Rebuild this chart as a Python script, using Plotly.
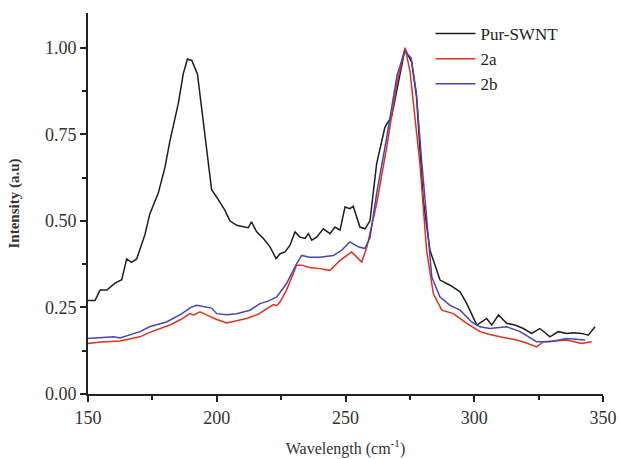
import plotly.graph_objects as go

# Pur-SWNT
x_pur = [150, 152.7, 154.7, 157.3, 160.5, 163.1, 165, 166.9, 168.9, 172.1, 174, 177.3, 179.9, 181.8,
         185.1, 187, 188.6, 190.3, 192.5, 194.1, 196.1, 198, 200.3, 203.2, 205.1, 207.7, 212.2, 213.5,
         215.5, 218.1, 220.7, 223, 224.6, 226.5, 228.4, 230.4, 232.3, 234.3, 235.6, 236.9, 238.8, 241.4,
         244, 245.9, 247.9, 249.8, 251.7, 253, 255.6, 257.6, 259.5, 262.1, 265.3, 268, 271.2, 273.1,
         275.7, 277.6, 280.2, 282.8, 286.7, 290.6, 294.5, 297.1, 301, 304.8, 306.8, 309.4, 312.6, 315.8,
         319.1, 322.3, 325.5, 329.4, 332.6, 335.9, 338.5, 341.7, 344.3, 346.9]
y_pur = [0.27, 0.27, 0.30, 0.30, 0.32, 0.33, 0.39, 0.38, 0.39, 0.46, 0.52, 0.58, 0.655, 0.73,
         0.84, 0.925, 0.967, 0.963, 0.924, 0.828, 0.713, 0.59, 0.565, 0.53, 0.50, 0.487, 0.48, 0.497,
         0.468, 0.449, 0.425, 0.391, 0.405, 0.41, 0.429, 0.468, 0.453, 0.449, 0.463, 0.444, 0.453, 0.477,
         0.463, 0.482, 0.473, 0.54, 0.535, 0.542, 0.482, 0.477, 0.50, 0.665, 0.77, 0.804, 0.924, 0.996,
         0.958, 0.857, 0.559, 0.415, 0.329, 0.314, 0.295, 0.261, 0.199, 0.218, 0.199, 0.228, 0.204, 0.199,
         0.189, 0.175, 0.189, 0.165, 0.18, 0.175, 0.177, 0.175, 0.17, 0.194]

# 2a
x_2a = [150, 155, 162.4, 166, 170.2, 174, 178, 181.8, 186, 189.6, 191, 193.5, 197, 200, 203.9, 207.7,
        211.6, 216, 220.7, 222, 223.3, 224.6, 227.1, 231, 233, 236, 240, 244, 247.9, 252.4, 256.3,
        258.3, 262.1, 266, 269.9, 273.1, 275, 278.9, 281.5, 284.1, 287.4, 291.9, 297.1, 302.2, 306,
        310, 316.5, 320, 324.2, 326.8, 331, 335.9, 341.7, 345.6]
y_2a = [0.146, 0.15, 0.153, 0.158, 0.165, 0.178, 0.189, 0.199, 0.215, 0.232, 0.228, 0.237, 0.225, 0.215,
        0.205, 0.212, 0.218, 0.23, 0.252, 0.258, 0.255, 0.266, 0.30, 0.372, 0.372, 0.365, 0.362, 0.357,
        0.386, 0.41, 0.381, 0.424, 0.55, 0.713, 0.895, 1.0, 0.934, 0.665, 0.415, 0.29, 0.242, 0.232,
        0.204, 0.18, 0.172, 0.165, 0.156, 0.148, 0.136, 0.151, 0.153, 0.156, 0.146, 0.151]

# 2b
x_2b = [150, 155, 160, 162.4, 166, 170.2, 174.1, 180.5, 186, 190, 192.2, 196, 198, 200, 204, 207.7,
        212.9, 216.8, 220, 223.3, 227.1, 231, 233, 236, 240, 245.3, 248.5, 251.7, 255, 257.5, 259.5,
        262.1, 266, 270, 273, 275.5, 277.5, 279.5, 281.5, 283.5, 286.7, 290.6, 294.5, 299, 302.2, 306,
        312.6, 317.8, 324.2, 329.4, 335.9, 343]
y_2b = [0.16, 0.163, 0.165, 0.162, 0.17, 0.18, 0.195, 0.208, 0.23, 0.25, 0.256, 0.25, 0.248, 0.232,
        0.229, 0.232, 0.242, 0.261, 0.268, 0.28, 0.319, 0.376, 0.40, 0.395, 0.395, 0.40, 0.415, 0.439,
        0.425, 0.42, 0.45, 0.58, 0.74, 0.92, 0.99, 0.97, 0.87, 0.68, 0.50, 0.338, 0.28, 0.256, 0.242,
        0.208, 0.194, 0.189, 0.194, 0.18, 0.151, 0.151, 0.16, 0.156]

x_ticks = [150, 200, 250, 300, 350]
y_ticks = [0.00, 0.25, 0.50, 0.75, 1.00]

fig = go.Figure()
fig.add_trace(go.Scatter(x=x_pur, y=y_pur, mode="lines", name="Pur-SWNT",
                         line=dict(color="#1e1e1e", width=1.5)))
fig.add_trace(go.Scatter(x=x_2a, y=y_2a, mode="lines", name="2a",
                         line=dict(color="#e0301e", width=1.5)))
fig.add_trace(go.Scatter(x=x_2b, y=y_2b, mode="lines", name="2b",
                         line=dict(color="#4646b4", width=1.5)))

font_family = "Liberation Serif"
fig.update_layout(
    width=619, height=459,
    margin=dict(l=88, r=16, t=13, b=65, autoexpand=False),
    plot_bgcolor="white", paper_bgcolor="white",
    font=dict(family=font_family, size=15, color="#333333"),
    legend=dict(x=0.665, y=0.992, xanchor="left", yanchor="top",
                bgcolor="rgba(0,0,0,0)", font=dict(family=font_family, size=17, color="#222222"),
                tracegroupgap=0, itemwidth=40),
    xaxis=dict(range=[150, 350], tickvals=x_ticks, ticktext=[str(v) for v in x_ticks],
               automargin=False,
               showgrid=False, zeroline=False, showline=True, linecolor="#222222", linewidth=2,
               ticks="outside", ticklen=6, tickwidth=2, tickcolor="#222222",
               minor=dict(dtick=25, ticks="outside", ticklen=4, tickwidth=2, tickcolor="#222222"),
               tickfont=dict(size=18, color="#333333"),
               title=dict(text="Wavelength (cm<sup>-1</sup>)", font=dict(size=16, color="#333333"), standoff=16)),
    yaxis=dict(range=[0, 1.1], tickvals=y_ticks, ticktext=["%.2f" % v for v in y_ticks],
               automargin=False,
               showgrid=False, zeroline=False, showline=True, linecolor="#222222", linewidth=2,
               ticks="outside", ticklen=6, tickwidth=2, tickcolor="#222222",
               minor=dict(dtick=0.125, ticks="outside", ticklen=4, tickwidth=2, tickcolor="#222222"),
               tickfont=dict(size=18, color="#333333"),
               title=dict(text="<b>Intensity (a.u)</b>", font=dict(size=15, color="#333333"), standoff=22)),
)

fig.write_html("out.html")
